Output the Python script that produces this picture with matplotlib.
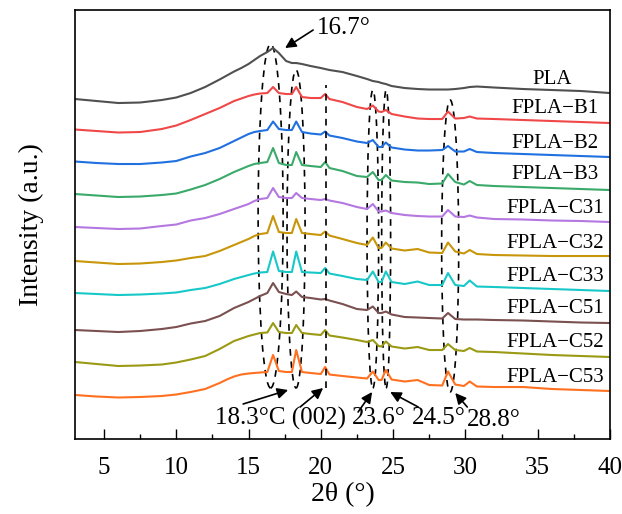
import matplotlib.pyplot as plt
from matplotlib.patches import Ellipse

plt.rcParams['font.family'] = ['Liberation Serif', 'DejaVu Serif']

# 2theta grid (deg) and intensities (a.u., already offset/stacked)
two_theta = [3, 4.5, 6, 7.5, 9, 10, 11, 12, 13, 13.5, 14, 14.5, 15, 15.4, 15.8,
             16.3, 16.7, 17.1, 17.6,
             18.0, 18.3, 18.7, 19.3, 20.0, 20.3, 20.6, 21.5, 22.5, 23.2, 23.6, 24.0,
             24.2, 24.5, 24.9, 25.8, 26.7, 27.5, 28.4, 28.8, 29.3, 29.9, 30.3, 30.8,
             32, 34, 36, 38, 40]

pla = [341, 339, 337, 337.5, 340, 342.5, 347, 353, 360.5, 364.5, 368.5, 372, 376, 380, 384,
       388, 392, 387, 379,
       377, 377, 376, 374, 372, 371, 370, 368, 364, 361, 359, 358,
       357, 356, 354, 352, 351, 350.5, 350.5, 350.5, 351, 352, 353, 353.5,
       352.5, 351, 350, 349, 347]
fpla_b1 = [310.5, 309, 307.5, 308, 311, 314.5, 320, 326, 332, 335.5, 339, 341.5, 344, 345.5, 346.5,
           347, 353, 347, 346,
           346, 353, 343, 342, 342, 346, 341, 338, 333, 331, 334.5, 328.5,
           328, 330, 326, 323.5, 321.5, 321, 321, 328.5, 321.5, 322, 323.5, 321.5,
           321, 320, 319, 318, 317]
fpla_b2 = [278.5, 277, 276, 276, 277.5, 279, 283.5, 287, 292, 295.5, 299, 302.5, 306, 308, 309,
           310, 318.5, 311, 310,
           310, 318.5, 308, 306.5, 305.5, 308.5, 304.5, 302, 298.5, 297, 300, 293,
           293, 297.5, 292.5, 290.5, 289.5, 289.5, 290, 294, 288.5, 288.5, 291, 288,
           287, 286, 285, 284, 283]
fpla_b3 = [246, 244.5, 243, 243.5, 245, 246.5, 250.5, 255, 261, 264.5, 268, 271, 274, 276, 277,
           278, 292, 277, 275,
           275, 288, 275, 274, 273, 278, 272, 269, 264, 263, 268, 260,
           260, 265, 259.5, 258, 257.5, 256, 256.5, 266, 258, 255.5, 259, 255,
           254, 253, 252, 251, 250]
fpla_c31 = [213, 212, 211, 211.5, 214, 215.5, 219.5, 222, 226, 228.5, 231, 233.5, 236, 239, 241,
            242, 252, 243, 242,
            242, 247, 242, 241, 240, 241, 239.5, 237, 233, 231, 236, 228.5,
            228.5, 229.5, 227, 225, 224, 223.5, 223.5, 230, 223.5, 223, 224.5, 222.5,
            221, 220.5, 219.5, 219, 218]
fpla_c32 = [179, 177.5, 176, 176.5, 178, 179.5, 182, 184, 189, 192, 195, 198, 201, 204, 206,
            207, 224, 208, 207,
            207, 221, 207, 206, 205, 208.5, 204.5, 201, 197, 195, 202.5, 192,
            192, 197.5, 191.5, 189.5, 191, 187.5, 187, 197.5, 188.5, 186.5, 190, 186,
            185, 184.5, 184, 184, 184]
fpla_c33 = [147, 146, 145, 145.5, 146.5, 147.5, 150, 152, 156, 158.5, 161, 163, 165, 166.5, 167.5,
            168, 188.5, 169, 168,
            168, 188.5, 168, 167.5, 167, 172, 166.5, 164, 161, 160, 168.5, 158,
            158, 168.5, 158, 156, 158.5, 155, 155, 167, 155, 154, 159.5, 153.5,
            153, 152, 151, 150, 149]
fpla_c51 = [110, 109, 108, 109, 111, 113, 116.5, 119, 124, 128, 132, 135, 138, 141, 144,
            147, 157, 148, 146,
            145, 148.5, 143, 142, 140.5, 141, 139.5, 136, 131, 130, 133.5, 127,
            127, 128.5, 125.5, 123, 122.5, 122, 121.5, 127, 121, 120.5, 120.5, 120.5,
            120, 119.5, 118.5, 117.5, 117]
fpla_c52 = [78, 76, 74, 74.5, 75.5, 77.5, 80.5, 84, 91, 95, 99, 101.5, 104, 105.5, 107,
            107.5, 117, 108, 107,
            107, 115, 107, 106, 105, 110, 104.5, 102.5, 100, 98, 100, 94,
            93.5, 98.5, 93.5, 91.5, 93, 90, 90, 96, 90, 89, 92, 88.5,
            88, 86.5, 85, 84, 83]
fpla_c53 = [45, 43.5, 42.5, 43, 44, 45.5, 48, 51, 57, 60.5, 63.5, 65.5, 66.5, 67, 67.5,
            68, 85, 69, 68,
            68, 90, 68, 67, 66, 73, 65.5, 64, 62.5, 61.5, 68.5, 60,
            60, 70, 60.5, 58.5, 60, 55, 54.5, 68.5, 55.5, 54, 58.5, 53.5,
            53, 53, 51, 50, 49]

samples = ['PLA', 'FPLA−B1', 'FPLA−B2', 'FPLA−B3', 'FPLA−C31', 'FPLA−C32',
           'FPLA−C33', 'FPLA−C51', 'FPLA−C52', 'FPLA−C53']
curves = [pla, fpla_b1, fpla_b2, fpla_b3, fpla_c31, fpla_c32,
          fpla_c33, fpla_c51, fpla_c52, fpla_c53]
colors = ['#505050', '#f04848', '#2070e0', '#3aaa6a', '#b478e0', '#c8960a',
          '#18c8c8', '#7a5050', '#9a9a14', '#ff7020']
label_y = [361, 332, 297, 266, 232, 197, 164, 132, 98, 63]

fig = plt.figure(figsize=(6.22, 5.14), dpi=100)
ax = fig.add_axes([0.1206, 0.1459, 0.860, 0.8346])

for name, y, c, ly in zip(samples, curves, colors, label_y):
    ax.plot(two_theta, y, color=c, lw=1.5)
    ax.text(36.2 if name != 'PLA' else 36.0, ly, name, ha='center', va='center', fontsize=15)

# dashed guides around the crystalline peaks
dash = (0, (4, 3.5))
for cx, w, cy, h in [(16.53, 1.73, 224, 344), (18.29, 1.25, 211, 318),
                     (23.6, 0.8, 201, 298), (24.52, 0.62, 201, 298),
                     (28.95, 1.18, 194, 292)]:
    ax.add_patch(Ellipse((cx, cy), w, h, fill=False, ec='k', lw=1.2, ls=dash))
ax.plot([20.37, 20.37], [52, 355], color='k', lw=1.2, ls=dash)

arrow = dict(arrowstyle='-|>', color='k', lw=1.2, mutation_scale=16, shrinkA=0, shrinkB=0)
ax.annotate('', xy=(17.53, 392), xytext=(19.47, 410), arrowprops=arrow)
ax.text(19.75, 412, '16.7°', ha='left', va='center', fontsize=18)

ax.annotate('', xy=(17.74, 50), xytext=(14.63, 36), arrowprops=arrow)
ax.annotate('', xy=(20.16, 52), xytext=(18.57, 33), arrowprops=arrow)
ax.annotate('', xy=(23.55, 48), xytext=(22.58, 28), arrowprops=arrow)
ax.annotate('', xy=(24.8, 48), xytext=(26.74, 33), arrowprops=arrow)
ax.annotate('', xy=(29.3, 47), xytext=(30.13, 33), arrowprops=arrow)
ax.text(12.69, 22, '18.3°C (002)', ha='left', va='center', fontsize=18)
ax.text(22.17, 22, '23.6°', ha='left', va='center', fontsize=18)
ax.text(26.32, 22, '24.5°', ha='left', va='center', fontsize=18)
ax.text(30.13, 20, '28.8°', ha='left', va='center', fontsize=18)

ax.set_xlim(3, 40)
ax.set_ylim(1, 430)
ax.set_xticks([5, 10, 15, 20, 25, 30, 35, 40])
ax.set_xticks([7.5, 12.5, 17.5, 22.5, 27.5, 32.5, 37.5], minor=True)
ax.set_yticks([])
ax.tick_params(axis='x', which='major', direction='in', length=7, width=1, labelsize=18, pad=13)
ax.tick_params(axis='x', which='minor', direction='in', length=3.6, width=1)
for s in ax.spines.values():
    s.set_linewidth(1.2)
ax.set_xlabel('2θ (°)', fontsize=20, labelpad=2)
ax.set_ylabel('Intensity (a.u.)', fontsize=20, labelpad=22)

fig.savefig('out.png', dpi=100)
